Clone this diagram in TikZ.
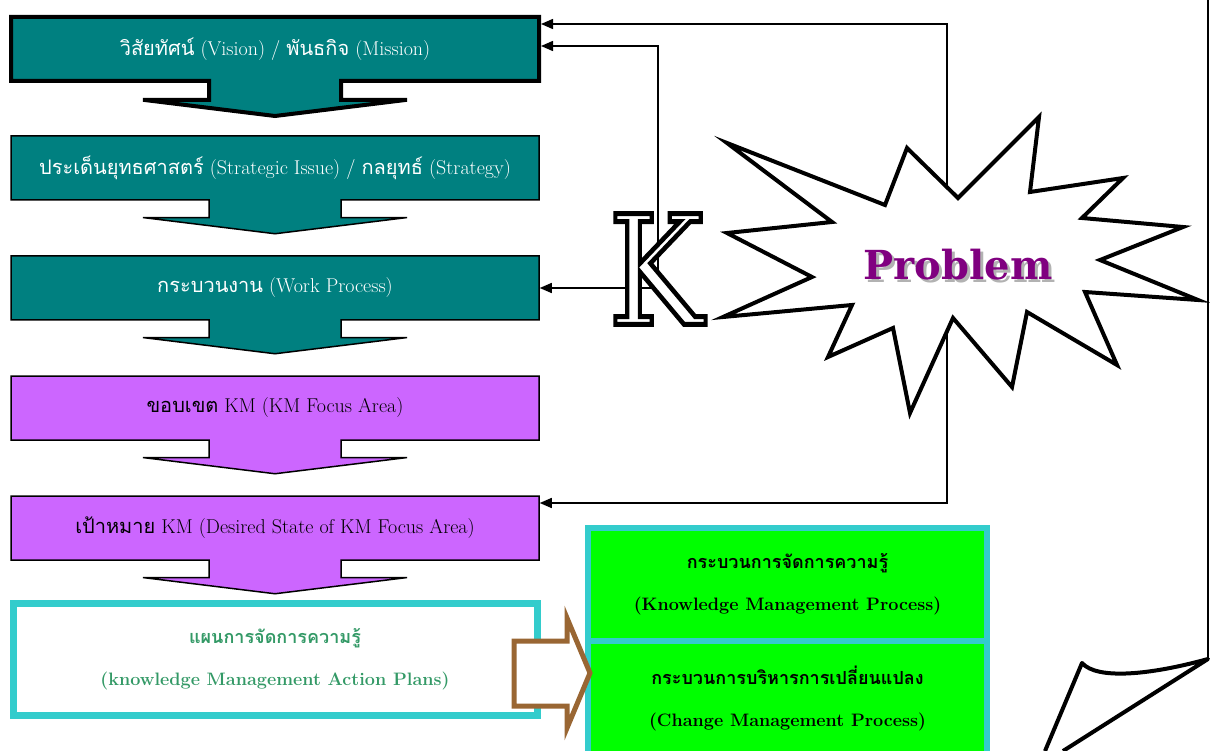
\documentclass[tikz,border=0pt]{standalone}
\usepackage{fontspec}
\newfontfamily\thaifont[Script=Thai]{Loma}
\newfontfamily\slabfont{DejaVu Serif}
\usetikzlibrary{shapes.arrows,arrows.meta}
\definecolor{tealbox}{HTML}{008080}
\definecolor{violetbox}{HTML}{CC66FF}
\definecolor{cyanframe}{HTML}{33CCCC}
\definecolor{greenbox}{HTML}{00FF00}
\definecolor{plantext}{HTML}{339966}
\definecolor{brownarrow}{HTML}{996633}
\definecolor{probpurple}{HTML}{800080}
\definecolor{probshade}{HTML}{B2B2B2}
\newcommand{\thw}[1]{{\thaifont #1}}
\begin{document}
\begin{tikzpicture}[x=1pt, y=-1pt,
  stepbox/.style={shape=arrow box, draw=black, line width=1.5pt,
    minimum width=528pt, minimum height=64pt, inner sep=0pt,
    arrow box north arrow=-1pt, arrow box east arrow=-1pt,
    arrow box west arrow=-1pt, arrow box south arrow=33pt,
    arrow box shaft width=132pt, arrow box head extend=66pt,
    arrow box tip angle=166, font=\fontsize{20}{24}\selectfont},
  conn/.style={-{Triangle[length=12pt,width=10pt]}, line width=1.5pt, draw=black},
  greenstep/.style={draw=cyanframe, fill=greenbox, line width=6pt,
    minimum width=399pt, minimum height=113.5pt, align=center,
    font=\bfseries\fontsize{18}{42}\selectfont}]
\useasboundingbox (0,0) rectangle (1210,751);
% steps on the left
\node[stepbox, fill=tealbox, text=white, line width=4pt] (vision) at (275,49) {\thw{วิสัยทัศน์} (Vision) / \thw{พันธกิจ} (Mission)};
\node[stepbox, fill=tealbox, text=white] (issue) at (275,168) {\thw{ประเด็นยุทธศาสตร์} (Strategic Issue) / \thw{กลยุทธ์} (Strategy)};
\node[stepbox, fill=tealbox, text=white] (process) at (275,288) {\thw{กระบวนงาน} (Work Process)};
\node[stepbox, fill=violetbox, text=black] (focus) at (275,408) {\thw{ขอบเขต} KM (KM Focus Area)};
\node[stepbox, fill=violetbox, text=black] (desired) at (275,528) {\thw{เป้าหมาย} KM (Desired State of KM Focus Area)};
\node[draw=cyanframe, line width=7pt, minimum width=524pt, minimum height=112pt, align=center,
  text=plantext, font=\bfseries\fontsize{18}{42}\selectfont] (plan) at (275,659)
  {\thw{แผนการจัดการความรู้}\\(knowledge Management Action Plans)};
% processes on the right
\node[greenstep] (kmproc) at (787.5,584.5) {\thw{กระบวนการจัดการความรู้}\\(Knowledge Management Process)};
\node[greenstep] (cmproc) at (787.5,698) {\thw{กระบวนการบริหารการเปลี่ยนแปลง}\\(Change Management Process)};
\draw[draw=brownarrow, fill=white, line width=5pt, line join=miter]
  (514,641) -- (567,641) -- (567,618) -- (590,673) -- (567,728) -- (567,706) -- (514,706) -- cycle;
% feedback lines
\coordinate (probtop) at (947,187);
\coordinate (probbot) at (947,331);
\coordinate (kcorner) at (658,288);
\draw[conn] (probtop) |- ([yshift=25pt]vision.east);
\draw[conn] (kcorner) |- ([yshift=3pt]vision.east);
\draw[conn] (kcorner) -- (process.east);
\draw[conn] (probbot) |- ([yshift=25pt]desired.east);
% knowledge letter
\node[inner sep=0pt, font=\slabfont\fontsize{152}{152}\selectfont] (kletter) at (656,269)
  {\scalebox{0.84}[1]{\color{white}\special{pdf:literal direct 2 Tr 5 w 0 0 0 RG}K\special{pdf:literal direct 0 Tr}}};
% problem burst
\draw[line width=4pt, fill=white, line join=miter]
  (727,143) -- (885,205) -- (907,148) -- (958,198) -- (1039,117) -- (1030,192)
  -- (1123,178) -- (1082,218) -- (1183,227) -- (1100,260) -- (1198,300) -- (1085,292)
  -- (1117,365) -- (1027,312) -- (1012,387) -- (953,318) -- (910,413) -- (893,328)
  -- (828,357) -- (852,305) -- (723,317) -- (812,277) -- (727,233) -- (832,222) -- cycle;
\node[text=probshade, font=\slabfont\bfseries\fontsize{40}{40}\selectfont] (probshadow) at (961,268) {Problem};
\node[text=probpurple, font=\slabfont\bfseries\fontsize{40}{40}\selectfont] (problem) at (958,265) {Problem};
% page curl
\draw[line width=1.2pt] (1208,0) -- (1208,658);
\draw[line width=4pt, line join=round] (1045,751) -- (1082,663)
  .. controls (1097,680) and (1150,675) .. (1208,659) -- (1063,751);
\end{tikzpicture}
\end{document}
